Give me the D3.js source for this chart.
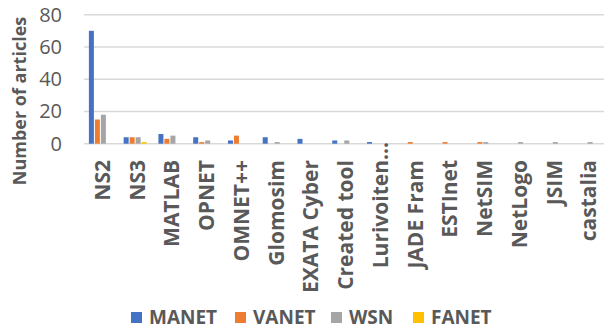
<!DOCTYPE html>
<html>
<head>
<meta charset="utf-8">
<script src="https://cdn.jsdelivr.net/npm/d3@7"></script>
<style>
  body { margin: 0; background: #fff; }
  text { font-family: "Open Sans", sans-serif; fill: #595959; }
</style>
</head>
<body>
<svg id="chart"></svg>
<script>
let tools = ['NS2', 'NS3', 'MATLAB', 'OPNET', 'OMNET++', 'Glomosim', 'EXATA Cyber', 'Created tool',
	'Lurivoiten…', 'JADE Fram', 'ESTInet', 'NetSIM', 'NetLogo', 'JSIM', 'castalia'];
let networks = ['MANET', 'VANET', 'WSN', 'FANET'];
let manet = [70, 4, 6, 4, 2, 4, 3, 2, 1, 0, 0, 0, 0, 0, 0];
let vanet = [15, 4, 3, 1, 5, 0, 0, 0, 0, 1, 1, 1, 0, 0, 0];
let wsn   = [18, 4, 5, 2, 0, 1, 0, 2, 0, 0, 0, 1, 1, 1, 1];
let fanet = [0, 1, 0, 0, 0, 0, 0, 0, 0, 0, 0, 0, 0, 0, 0];
let yTicks = [0, 20, 40, 60, 80];

function makeChart() {
	let w = 604;
	let h = 331;
	let series = [manet, vanet, wsn, fanet];
	var colors = ['#4472C4', '#ED7D31', '#A5A5A5', '#FFC000'];
	var color = d3.scaleOrdinal().domain(networks).range(colors);

	let chart = d3.select('#chart')
		.attr('width', w)
		.attr('height', h);

	let x = d3.scaleBand().domain(tools).range([83.5, 605]);
	let x1 = d3.scaleBand().domain(networks).range([0, 24]);
	let y = d3.scaleLinear().domain([0, 80]).range([143.7, 14.7]);

	// gridlines
	chart.append('g')
		.selectAll('line')
		.data(yTicks)
		.enter()
		.append('line')
		.attr('x1', 84)
		.attr('x2', w)
		.attr('y1', d => y(d))
		.attr('y2', d => y(d))
		.attr('stroke', '#D9D9D9')
		.attr('stroke-width', 1.5);

	// y tick labels
	chart.append('g')
		.selectAll('text')
		.data(yTicks)
		.enter()
		.append('text')
		.attr('x', 62)
		.attr('y', d => y(d))
		.attr('dy', '0.35em')
		.attr('text-anchor', 'end')
		.style('font-size', '20px')
		.text(d => d);

	// bars
	let group = chart.append('g')
		.selectAll('g')
		.data(tools)
		.enter()
		.append('g')
		.attr('transform', d => `translate(${x(d) + x.bandwidth() / 2 - 12},0)`);

	group.selectAll('rect')
		.data((d, i) => networks.map((n, j) => ({ key: n, value: series[j][i] })))
		.enter()
		.append('rect')
		.attr('x', d => x1(d.key))
		.attr('width', x1.bandwidth() - 1)
		.attr('y', d => y(d.value))
		.attr('height', d => y(0) - y(d.value))
		.attr('fill', d => color(d.key));

	// category labels (truncated one pokes above the others, like excel)
	chart.append('g')
		.selectAll('text')
		.data(tools)
		.enter()
		.append('text')
		.attr('transform', d => {
			let top = d.endsWith('…') ? 142 : 160;
			return `translate(${x(d) + x.bandwidth() / 2 + 1.5},${top}) rotate(-90)`;
		})
		.attr('dy', '0.35em')
		.attr('text-anchor', 'end')
		.style('font-size', '21px')
		.style('font-weight', 'bold')
		.text(d => d);

	// y title
	chart.append('text')
		.attr('transform', 'translate(20,101) rotate(-90)')
		.attr('dy', '0.35em')
		.attr('text-anchor', 'middle')
		.style('font-size', '18px')
		.style('font-weight', 'bold')
		.text('Number of articles');

	// legend
	let legendX = [131, 235, 331, 413];
	let legend = chart.append('g')
		.selectAll('g')
		.data(networks)
		.enter()
		.append('g')
		.attr('transform', (d, i) => `translate(${legendX[i]},312)`);

	legend.append('rect')
		.attr('width', 11)
		.attr('height', 11)
		.attr('fill', d => color(d));

	legend.append('text')
		.attr('x', 18)
		.attr('y', 5.5)
		.attr('dy', '0.35em')
		.style('font-size', '19px')
		.style('font-weight', 'bold')
		.text(d => d);
}

window.onload = function () {
	makeChart();
}
</script>
</body>
</html>
